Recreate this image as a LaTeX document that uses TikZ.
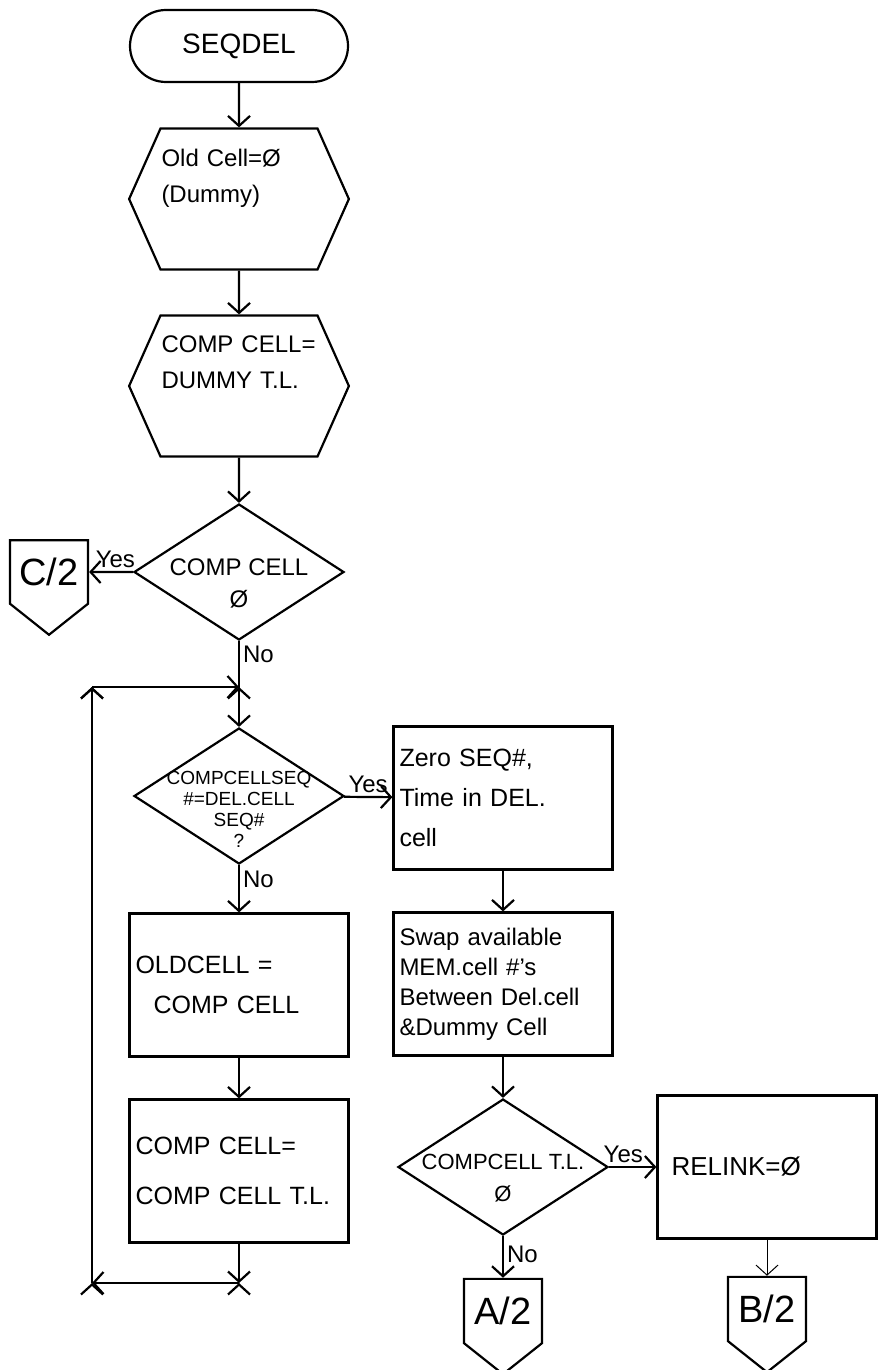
\documentclass[tikz,border=0pt]{standalone}
\usepackage{fontspec}
\setmainfont{Liberation Sans}
\usetikzlibrary{shapes.geometric, shapes.symbols, arrows.meta}

\begin{document}
\begin{tikzpicture}[x=1pt, y=-1pt, line width=2.2pt,
		>={Straight Barb[length=10pt, width=22pt]},
		font=\fontsize{25}{40}\selectfont,
		terminal/.style={draw, rectangle, rounded corners=36pt, minimum width=218pt, minimum height=72pt, font=\fontsize{28}{30}\selectfont},
		prep/.style={draw, signal, signal to=east and west, signal pointer angle=132, minimum width=218pt, minimum height=141pt, inner sep=1pt, text width=155pt, align=left, font=\fontsize{24}{36}\selectfont},
		decision/.style={draw, diamond, inner sep=0pt, minimum width=210pt, minimum height=136pt},
		decision text/.style={align=center, font=\fontsize{24}{32}\selectfont, yshift=-11pt},
		process/.style={draw, rectangle, inner sep=6pt, minimum width=219pt, minimum height=143pt, text width=207pt, align=left},
		offpage/.style={draw, signal, signal to=south, signal pointer angle=103, inner sep=0pt, minimum width=78pt, minimum height=87pt, font=\fontsize{38}{40}\selectfont},
		answer/.style={font=\fontsize{24}{26}\selectfont, inner sep=3pt}]
		\useasboundingbox (0, 0) rectangle (885, 1370);
		% main column
		\node[terminal] (seqdel) at (239, 46) {SEQDEL};
		\node[prep] (seqdel_oldcell) at (239, 199) {Old Cell=Ø\\(Dummy)\\ \strut};
		\node[prep] (seqdel_comp) at (239, 386) {COMP CELL=\\DUMMY T.L.\\ \strut};
		\node[decision, label={[decision text]center:COMP CELL\\Ø}] (seqdel_null) at (239, 572) {};
		\node[offpage] (seqdel_c2) at (49, 572) {C/2};
		\node[decision, label={[decision text, font=\fontsize{19}{21}\selectfont, yshift=-2pt]center:COMPCELLSEQ\\\#=DEL.CELL\\SEQ\#\\?}] (seqdel_seq) at (239, 796) {};
		\node[process] (seqdel_old) at (239, 985) {OLDCELL =\\\hspace*{18pt}COMP CELL};
		\node[process, font=\fontsize{25}{50}\selectfont] (seqdel_next) at (239, 1171) {COMP CELL=\\COMP CELL T.L.};
		% right column
		\node[process] (seqdel_zero) at (503, 798) {Zero SEQ\#,\\Time in DEL.\\cell};
		\node[process, font=\fontsize{24}{30}\selectfont] (seqdel_swap) at (503, 984) {Swap available\\MEM.cell \#'s\\Between Del.cell\\\&Dummy Cell};
		\node[decision, label={[decision text, font=\fontsize{22}{32}\selectfont]center:COMPCELL T.L.\\Ø}] (seqdel_tl) at (503, 1167) {};
		\node[offpage] (seqdel_a2) at (503, 1311) {A/2};
		\node[process, font=\fontsize{26}{30}\selectfont] (seqdel_relink) at (767, 1167) {\hspace*{8pt}RELINK=Ø};
		\node[offpage] (seqdel_b2) at (767, 1309) {B/2};
		% loop back to the compare
		\coordinate (loop_join) at (239, 687);
		\coordinate (loop_back) at (239, 1283);
		\coordinate (loop_bl) at (92, 1283);
		\coordinate (loop_tl) at (92, 687);
		\draw[->] (seqdel) edge (seqdel_oldcell);
		\draw[->] (seqdel_oldcell) edge (seqdel_comp);
		\draw[->] (seqdel_comp) edge (seqdel_null);
		\draw[->] (seqdel_null) edge node[above, pos=.4, answer] {Yes} (seqdel_c2);
		\draw (seqdel_null) edge node[right, pos=.28, answer] {No} (loop_join);
		\draw[->] (loop_join) edge (seqdel_seq);
		\draw[->] (seqdel_seq) edge node[above, pos=.5, answer] {Yes} (seqdel_zero);
		\draw[->] (seqdel_seq) edge node[right, pos=.3, answer] {No} (seqdel_old);
		\draw[->] (seqdel_old) edge (seqdel_next);
		\draw[->] (seqdel_next) edge (loop_back);
		\draw[->] (loop_back) edge (loop_bl);
		\draw[->] (loop_bl) edge (loop_tl);
		\draw[->] (loop_tl) edge (loop_join);
		\draw[->] (seqdel_zero) edge (seqdel_swap);
		\draw[->] (seqdel_swap) edge (seqdel_tl);
		\draw[->] (seqdel_tl) edge node[above, pos=.3, answer] {Yes} (seqdel_relink);
		\draw[->] (seqdel_tl) edge node[right, pos=.45, answer] {No} (seqdel_a2);
		\draw[->, line width=1pt] (seqdel_relink) edge (seqdel_b2);
	\end{tikzpicture}
\end{document}
